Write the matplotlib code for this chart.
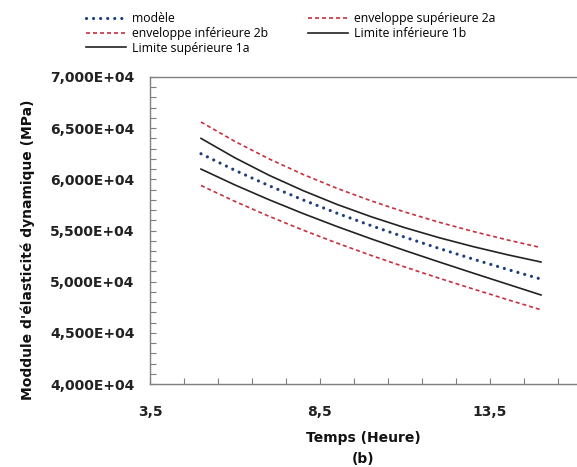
import numpy as np
import matplotlib
matplotlib.use("Agg")
import matplotlib.pyplot as plt
from matplotlib.ticker import MultipleLocator, FuncFormatter

# temps (heure)
temps = [5, 6, 7, 8, 9, 10, 11, 12, 13, 14, 15]

# module d'elasticite dynamique (MPa)
modele = [62500, 60880, 59380, 57990, 56690, 55480, 54340, 53250, 52210, 51210, 50250]
env_sup_2a = [65600, 63700, 62000, 60480, 59120, 57900, 56800, 55810, 54910, 54090, 53330]
env_inf_2b = [59400, 57840, 56390, 55040, 53770, 52570, 51430, 50340, 49290, 48260, 47250]
lim_sup_1a = [64000, 62100, 60400, 58900, 57550, 56350, 55270, 54300, 53430, 52640, 51920]
lim_inf_1b = [61000, 59450, 58010, 56660, 55390, 54190, 53040, 51930, 50840, 49770, 48700]

W, H = 577, 467
fig = plt.figure(figsize=(W / 100, H / 100), dpi=100)

# axes runs past the right edge of the picture, like the original crop
x0, x1, y0, y1 = 150, 609, 77, 384
ax = fig.add_axes([x0 / W, 1 - y1 / H, (x1 - x0) / W, (y1 - y0) / H])

red = "#c8303f"
navy = "#1f3f7a"
font = "DejaVu Sans"

l_mod, = ax.plot(temps, modele, color=navy, lw=2.3, linestyle=(0, (0.01, 2.2)),
                 dash_capstyle="round", label="modèle")
l_2a, = ax.plot(temps, env_sup_2a, color=red, lw=1.2, linestyle=(0, (2.4, 1.8)),
                label="enveloppe supérieure 2a")
l_2b, = ax.plot(temps, env_inf_2b, color=red, lw=1.2, linestyle=(0, (2.4, 1.8)),
                label="enveloppe inférieure 2b")
l_1b, = ax.plot(temps, lim_inf_1b, color="#222222", lw=1.2, label="Limite inférieure 1b")
l_1a, = ax.plot(temps, lim_sup_1a, color="#222222", lw=1.2, label="Limite supérieure 1a")

ax.set_xlim(3.5, 3.5 + (x1 - x0) / 34)
ax.set_ylim(40000, 70000)
ax.xaxis.set_major_locator(MultipleLocator(5, offset=3.5))
ax.xaxis.set_minor_locator(MultipleLocator(1, offset=0.5))
ax.yaxis.set_major_locator(MultipleLocator(5000))
ax.yaxis.set_minor_locator(MultipleLocator(1000))

ax.xaxis.set_major_formatter(FuncFormatter(lambda v, p: f"{v:.1f}".replace(".", ",")))
ax.yaxis.set_major_formatter(FuncFormatter(
    lambda v, p: f"{v / 1e4:.3f}".replace(".", ",") + "E+04"))

for s in ax.spines.values():
    s.set_color("#7f7f7f")
    s.set_linewidth(1.0)
ax.spines["right"].set_visible(False)

ax.tick_params(which="both", direction="in", length=4, width=0.8, color="#7f7f7f",
               top=False, right=False)
ax.tick_params(axis="y", pad=11)
ax.tick_params(axis="x", pad=15)
for lab in ax.get_xticklabels() + ax.get_yticklabels():
    lab.set_fontfamily(font)
    lab.set_fontweight("bold")
    lab.set_fontsize(10)
    lab.set_color("#222222")

fig.text(363 / W, 1 - 438 / H, "Temps (Heure)", ha="center", va="center",
         fontfamily=font, fontweight="bold", fontsize=10, color="#111111")
fig.text(363 / W, 1 - 459 / H, "(b)", ha="center", va="center",
         fontfamily=font, fontweight="bold", fontsize=10, color="#111111")
fig.text(28 / W, 1 - 250 / H, "Moddule d'élasticité dynamique (MPa)", ha="center",
         va="center", rotation=90, fontfamily=font, fontweight="bold",
         fontsize=10, color="#111111")

handles = [l_mod, l_2b, l_1a, l_2a, l_1b]
leg = fig.legend(handles=handles, labels=[h.get_label() for h in handles],
                 ncol=2, loc="upper left", bbox_to_anchor=(86 / W, 1 - 12 / H),
                 frameon=False, borderpad=0, borderaxespad=0,
                 prop={"family": "Open Sans", "size": 8.8},
                 handlelength=3.3, handletextpad=0.5, labelspacing=0.15,
                 columnspacing=3.2)

fig.savefig("out.png", dpi=100)
